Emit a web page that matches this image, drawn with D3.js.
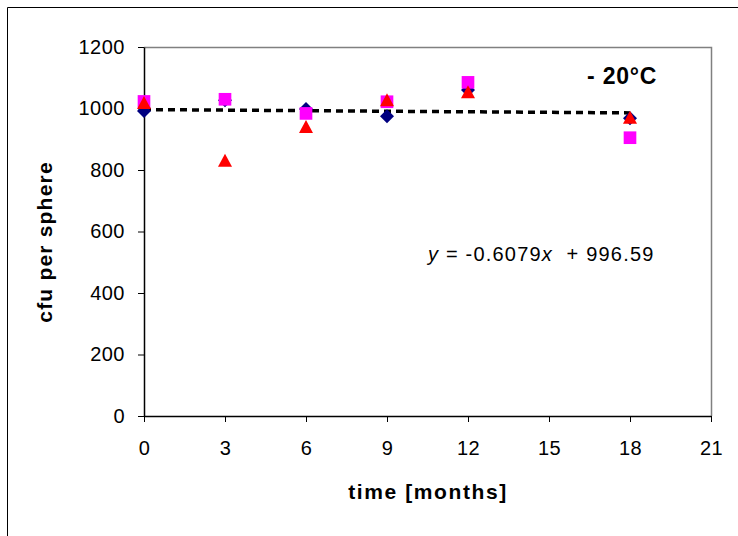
<!DOCTYPE html>
<html lang="en">
<head>
<meta charset="UTF-8">
<title>cfu per sphere -20°C</title>
<script src="https://d3js.org/d3.v7.min.js"></script>
<style>
body { margin: 0; background: #fff; }
svg { display: block; }
text { font-family: "Liberation Sans", Arial, sans-serif; fill: #000; }
.tick text { font-size: 20px; letter-spacing: 0.5px; }
.axis path, .axis line { stroke: #000; }
</style>
</head>
<body>
<svg id="chart" width="738" height="536"></svg>
<script>
const months = [0, 3, 6, 9, 12, 18];
const seriesDiamond = [992, 1027, 998, 975, 1060, 968];
const seriesSquare = [1023, 1030, 984, 1022, 1085, 905];
const seriesTriangle = [1018, 830, 940, 1027, 1053, 970];
const xTicks = [0, 3, 6, 9, 12, 15, 18, 21];
const yTicks = [0, 200, 400, 600, 800, 1000, 1200];
const trendSlope = -0.6079, trendIntercept = 996.59;

const svg = d3.select("#chart");
const x = d3.scaleLinear().domain([0, 21]).range([144, 711]);
const y = d3.scaleLinear().domain([0, 1200]).range([416, 47]);

// outer chart frame
svg.append("path")
    .attr("d", "M7.5,540 V7.5 H745")
    .attr("fill", "none").attr("stroke", "#000").attr("stroke-width", 1);

// plot area border (top/right)
svg.append("path")
    .attr("d", `M${x(0)},${y(1200)+0.5} H${x(21)+0.5} V${y(0)}`)
    .attr("fill", "none").attr("stroke", "#808080").attr("stroke-width", 1.5);

const xAxis = svg.append("g").attr("class", "axis")
    .attr("transform", `translate(0,${y(0)})`)
    .call(d3.axisBottom(x).tickValues(xTicks).tickSize(6).tickSizeOuter(0).tickPadding(19));
const yAxis = svg.append("g").attr("class", "axis")
    .attr("transform", `translate(${x(0)},0)`)
    .call(d3.axisLeft(y).tickValues(yTicks).tickFormat(d3.format("d"))
        .tickSize(6).tickSizeOuter(0).tickPadding(13));
svg.selectAll(".axis path").attr("stroke-width", 1.5);

// trendline
svg.append("line")
    .attr("x1", x(0)).attr("y1", y(trendIntercept))
    .attr("x2", x(18)).attr("y2", y(trendIntercept + trendSlope * 18))
    .attr("stroke", "#000").attr("stroke-width", 3.5)
    .attr("stroke-dasharray", "7,5");

// custom triangle: 14 wide, 13 tall
const tri = {
    draw(ctx, size) {
        ctx.moveTo(0, -7);
        ctx.lineTo(7, 6);
        ctx.lineTo(-7, 6);
        ctx.closePath();
    }
};

svg.append("g").selectAll("path")
    .data(months.map((m, i) => [m, seriesDiamond[i]]))
    .join("path")
    .attr("d", d3.symbol().type(d3.symbolSquare).size(98)())
    .attr("transform", d => `translate(${x(d[0])},${y(d[1])}) rotate(45)`)
    .attr("fill", "#000080");

svg.append("g").selectAll("path")
    .data(months.map((m, i) => [m, seriesSquare[i]]))
    .join("path")
    .attr("d", d3.symbol().type(d3.symbolSquare).size(160)())
    .attr("transform", d => `translate(${x(d[0])},${y(d[1])})`)
    .attr("fill", "#ff00ff");

svg.append("g").selectAll("path")
    .data(months.map((m, i) => [m, seriesTriangle[i]]))
    .join("path")
    .attr("d", d3.symbol().type(tri)())
    .attr("transform", d => `translate(${x(d[0])},${y(d[1])})`)
    .attr("fill", "#ff0000");

// labels
svg.append("text")
    .attr("x", 428).attr("y", 499)
    .attr("text-anchor", "middle")
    .attr("font-size", 21).attr("font-weight", "bold")
    .attr("letter-spacing", "1.6px")
    .text("time [months]");

svg.append("text")
    .attr("transform", "translate(52,242) rotate(-90)")
    .attr("text-anchor", "middle")
    .attr("font-size", 21).attr("font-weight", "bold")
    .attr("letter-spacing", "1.2px")
    .text("cfu per sphere");

svg.append("text")
    .attr("x", 587).attr("y", 84)
    .attr("font-size", 23).attr("font-weight", "bold")
    .attr("letter-spacing", "0.8px")
    .text("- 20°C");

const eq = svg.append("text")
    .attr("x", 428).attr("y", 261)
    .attr("font-size", 20)
    .attr("letter-spacing", "1.2px")
    .attr("xml:space", "preserve");
eq.append("tspan").attr("font-style", "italic").text("y");
eq.append("tspan").text(" = -0.6079");
eq.append("tspan").attr("font-style", "italic").text("x");
eq.append("tspan").text("  + 996.59");
</script>
</body>
</html>
